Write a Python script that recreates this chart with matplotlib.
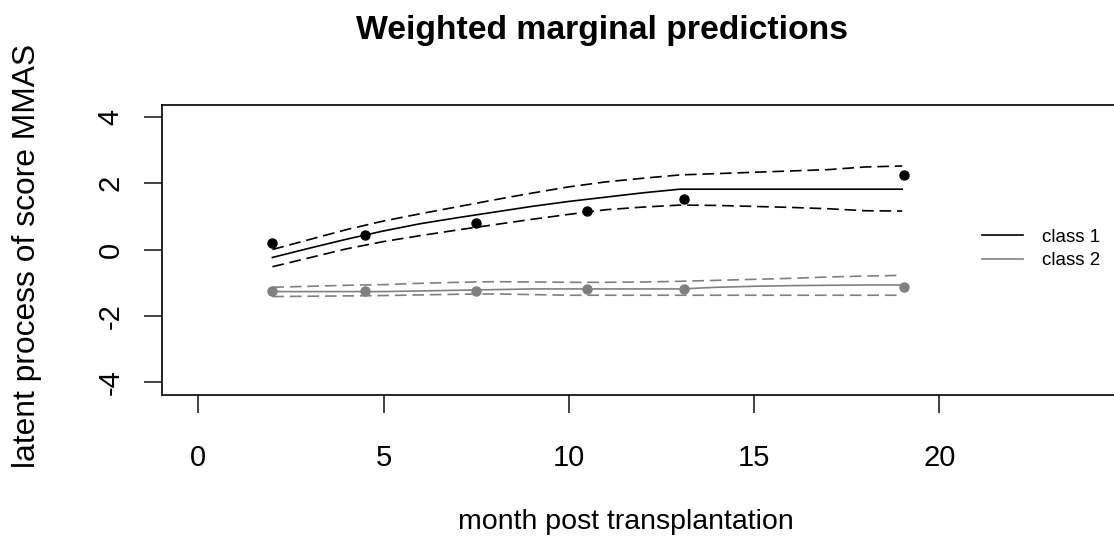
import matplotlib
matplotlib.use("Agg")
import matplotlib.pyplot as plt
from matplotlib.lines import Line2D

plt.rcParams['font.family'] = ['Liberation Sans', 'DejaVu Sans']

# time grid of the predicted curves (months)
months = [2, 3, 4, 5, 6, 7, 8, 9, 10, 11, 12, 13, 14, 15, 16, 17, 18, 19]

# class 1: prediction and 95% band
pred1 = [-0.24, 0.04, 0.31, 0.56, 0.78, 0.96, 1.13, 1.30, 1.45, 1.58, 1.71, 1.82,
         1.82, 1.82, 1.82, 1.82, 1.82, 1.82]
upper1 = [0.00, 0.30, 0.60, 0.86, 1.08, 1.29, 1.50, 1.70, 1.89, 2.04, 2.15, 2.25,
          2.29, 2.33, 2.37, 2.41, 2.49, 2.52]
lower1 = [-0.52, -0.25, 0.02, 0.24, 0.42, 0.59, 0.75, 0.91, 1.06, 1.20, 1.28, 1.34,
          1.33, 1.30, 1.27, 1.23, 1.17, 1.16]

# class 2
pred2 = [-1.27, -1.27, -1.27, -1.27, -1.25, -1.23, -1.21, -1.19, -1.19, -1.19, -1.19,
         -1.19, -1.14, -1.11, -1.09, -1.08, -1.07, -1.07]
upper2 = [-1.14, -1.11, -1.08, -1.06, -1.02, -0.99, -0.97, -0.98, -0.99, -0.99, -0.98,
          -0.96, -0.93, -0.90, -0.87, -0.83, -0.80, -0.78]
lower2 = [-1.42, -1.41, -1.40, -1.39, -1.37, -1.35, -1.34, -1.36, -1.38, -1.38, -1.38,
          -1.38, -1.38, -1.38, -1.38, -1.38, -1.38, -1.38]

# observed weighted means
obs_months = [2, 4.5, 7.5, 10.5, 13.1, 19.05]
obs1 = [0.20, 0.44, 0.81, 1.16, 1.52, 2.25]
obs2 = [-1.24, -1.25, -1.25, -1.19, -1.19, -1.14]

labels = ['class 1', 'class 2']
colors = ['black', '#808080']

W, H = 1114, 548
fig = plt.figure(figsize=(W / 100, H / 100), dpi=100)
# the plot box runs past the right edge of the picture, as in the original
ax = fig.add_axes([162 / W, 1 - 395 / H, (1160 - 162) / W, 290 / H])

dash = (7, 3.5)
for pred, up, lo, obs, col in [(pred1, upper1, lower1, obs1, colors[0]),
                               (pred2, upper2, lower2, obs2, colors[1])]:
    ax.plot(months, pred, color=col, lw=1.2)
    ax.plot(months, up, color=col, lw=1.2, ls=(0, dash))
    ax.plot(months, lo, color=col, lw=1.2, ls=(0, dash))
    ax.plot(obs_months, obs, 'o', color=col, ms=6.5)

ax.set_xlim(-0.98, 25.96)
ax.set_ylim(-4.39, 4.36)
ax.set_xticks([0, 5, 10, 15, 20])
ax.set_yticks([-4, -2, 0, 2, 4])
ax.set_yticklabels(['-4', '-2', '0', '2', '4'], rotation=90, va='center')
ax.tick_params(axis='both', length=13, width=1.2, labelsize=21, color='#222222')
ax.tick_params(axis='x', pad=22)
ax.tick_params(axis='y', pad=14)
for s in ax.spines.values():
    s.set_linewidth(1.2)

fig.text(602 / W, 1 - 31 / H, 'Weighted marginal predictions', fontsize=24.3,
         fontweight='bold', ha='center', va='center')
fig.text(626 / W, 1 - 522 / H, 'month post transplantation', fontsize=20.5,
         ha='center', va='center')
fig.text(27 / W, 1 - 256 / H, 'latent process of score MMAS', fontsize=22.9,
         ha='center', va='center', rotation=90)

handles = [Line2D([], [], color=c, lw=1.2) for c in colors]
ax.legend(handles, labels, loc='center left', bbox_to_anchor=(982 / W, 1 - 249 / H),
          bbox_transform=fig.transFigure, frameon=False, fontsize=13.5,
          borderpad=0, borderaxespad=0, handlelength=2.2, handletextpad=1.0,
          labelspacing=0.35)

fig.savefig('out.png', dpi=100)
